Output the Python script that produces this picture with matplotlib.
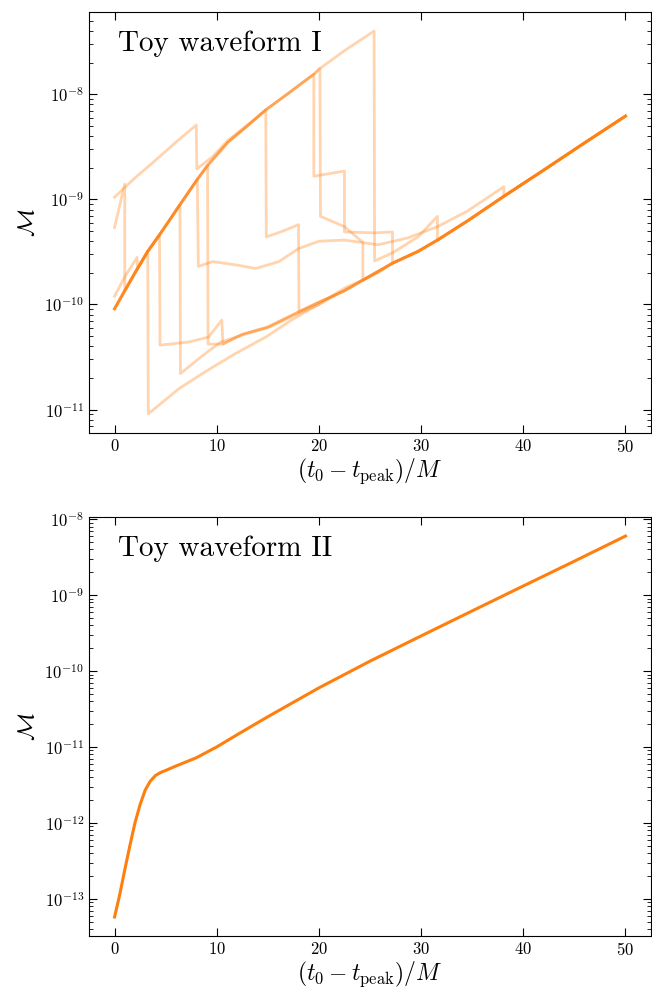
import matplotlib
matplotlib.use("Agg")
from matplotlib import pyplot as plt

plt.rcParams["font.family"] = "serif"
plt.rcParams["font.serif"] = ["cmr10"]
plt.rcParams["mathtext.fontset"] = "cm"
plt.rcParams["axes.formatter.use_mathtext"] = True

# --- Toy waveform I: mismatch vs t0 for several fits -------------------
# shared tracks
up_t = [0, 1, 2, 3.25, 4.4, 5.5, 6.4, 8.1, 9.1, 11.1, 13, 14.8, 17, 19.5, 20.1, 22.5, 25.4]
up_m = [9.1e-11, 1.35e-10, 2.0e-10, 3.2e-10, 4.6e-10, 6.6e-10, 8.9e-10, 1.55e-9, 2.1e-9,
        3.5e-9, 5.0e-9, 7.1e-9, 1.02e-8, 1.55e-8, 1.76e-8, 2.6e-8, 4.0e-8]

late_t = [27.2, 29.7, 31.6, 34.5, 38.1, 42, 46, 50]
late_m = [2.47e-10, 3.2e-10, 4.1e-10, 6.2e-10, 1.07e-9, 1.9e-9, 3.45e-9, 6.2e-9]

bundle_t = [10.6, 12.5, 15, 18, 20, 22.5, 24.3]
bundle_m = [4.2e-11, 5.2e-11, 6.1e-11, 8.5e-11, 1.05e-10, 1.35e-10, 1.7e-10]

# individual pieces
c_t = [3.3, 6.3, 8.9, 11.8, 14.8, 17.3, 19.9, 22.5, 25.8]
c_m = [9.1e-12, 1.58e-11, 2.3e-11, 3.4e-11, 4.9e-11, 7.1e-11, 9.9e-11, 1.43e-10, 2.0e-10]

f_t = [4.45, 7.3, 9.2, 10.5]
f_m = [4.1e-11, 4.4e-11, 4.9e-11, 7.1e-11]

d_t = [6.45, 8.5, 10.4, 13, 15.0, 17.5, 20, 23, 25.5]
d_m = [2.2e-11, 3.2e-11, 4.4e-11, 5.3e-11, 6.0e-11, 7.8e-11, 1.0e-10, 1.45e-10, 2.0e-10]

g_t = [8.2, 9.6, 11.9, 13.8, 16.1, 18, 20, 22.5, 25.8, 28.7, 31.6, 34.5, 38.1]
g_m = [2.3e-10, 2.56e-10, 2.38e-10, 2.2e-10, 2.56e-10, 3.4e-10, 4.0e-10, 4.1e-10,
       3.7e-10, 4.3e-10, 5.5e-10, 7.7e-10, 1.32e-9]

e_start_t = [0, 1.0]
e_start_m = [5.4e-10, 1.4e-9]
e_t = [9.15]
e_m = [4.2e-11]

i_start_t = [0, 1.1, 2.2, 2.25]
i_start_m = [1.2e-10, 1.9e-10, 2.8e-10, 2.2e-10]
i_t = [14.85, 16.5, 18, 18.05]
i_m = [4.4e-10, 5.0e-10, 5.75e-10, 8.5e-11]

j_t = [19.5, 22.5, 22.5, 25.5, 27.2]
j_m = [1.66e-9, 1.86e-9, 4.9e-10, 4.8e-10, 4.9e-10]

k_t = [20.15, 22.5, 24.3, 24.3]
k_m = [6.9e-10, 5.5e-10, 3.9e-10, 1.7e-10]

a_start_t = [0, 2, 4, 6, 8.0, 8.05, 9.5, 11.1, 13]
a_start_m = [1.05e-9, 1.6e-9, 2.35e-9, 3.5e-9, 5.1e-9, 1.95e-9, 2.5e-9, 3.65e-9, 5.1e-9]
a_t = [25.45, 27.2, 29.7, 31.6]
a_m = [2.6e-10, 3.1e-10, 4.4e-10, 6.9e-10]

curves = [
    (up_t[:4] + c_t + late_t, up_m[:4] + c_m + late_m),
    (up_t[:5] + f_t + bundle_t + late_t, up_m[:5] + f_m + bundle_m + late_m),
    (up_t[:7] + d_t + late_t, up_m[:7] + d_m + late_m),
    (up_t[:8] + g_t + late_t[4:], up_m[:8] + g_m + late_m[4:]),
    (e_start_t + up_t[1:9] + e_t + bundle_t + late_t,
     e_start_m + up_m[1:9] + e_m + bundle_m + late_m),
    (i_start_t + up_t[3:12] + i_t + bundle_t[4:] + late_t,
     i_start_m + up_m[3:12] + i_m + bundle_m[4:] + late_m),
    (up_t[:14] + j_t + late_t, up_m[:14] + j_m + late_m),
    (up_t[:15] + k_t + late_t, up_m[:15] + k_m + late_m),
    (a_start_t + up_t[11:] + a_t + late_t[2:], a_start_m + up_m[11:] + a_m + late_m[2:]),
]

# --- Toy waveform II ---------------------------------------------------
t2 = [0, 0.5, 1, 1.5, 2, 2.5, 3, 3.5, 4, 4.5, 5, 6, 8, 10, 12, 15, 20, 25, 30, 35, 40, 45, 50]
m2 = [5.75e-14, 1.12e-13, 2.4e-13, 5.0e-13, 1.0e-12, 1.74e-12, 2.7e-12, 3.55e-12, 4.2e-12,
      4.6e-12, 4.9e-12, 5.6e-12, 7.2e-12, 1.0e-11, 1.45e-11, 2.5e-11, 6.0e-11, 1.35e-10,
      2.9e-10, 6.2e-10, 1.32e-9, 2.8e-9, 6.0e-9]

fig = plt.figure(figsize=(6.52, 9.88), dpi=100)
ax1 = fig.add_axes([0.1365, 0.5617, 0.862, 0.4263])
ax2 = fig.add_axes([0.1365, 0.0526, 0.862, 0.4241])

for t, m in curves:
    ax1.plot(t, m, color="C1", alpha=0.33, lw=2)
ax2.plot(t2, m2, color="C1", lw=2.2)

for ax, name in [(ax1, "Toy waveform I"), (ax2, "Toy waveform II")]:
    ax.set_yscale("log")
    ax.set_xlabel(r"$(t_0 - t_{\rm peak})/M$", fontsize=17, labelpad=1)
    ax.set_ylabel(r"$\mathcal{M}$", fontsize=17)
    ax.text(0.052, 0.955, name, transform=ax.transAxes, va="top", fontsize=21)
    ax.tick_params(which="both", direction="in", top=True, right=True, labelsize=12)
    ax.tick_params(which="major", length=6)
    ax.tick_params(which="minor", length=3)

fig.savefig("out.png", dpi=100)
